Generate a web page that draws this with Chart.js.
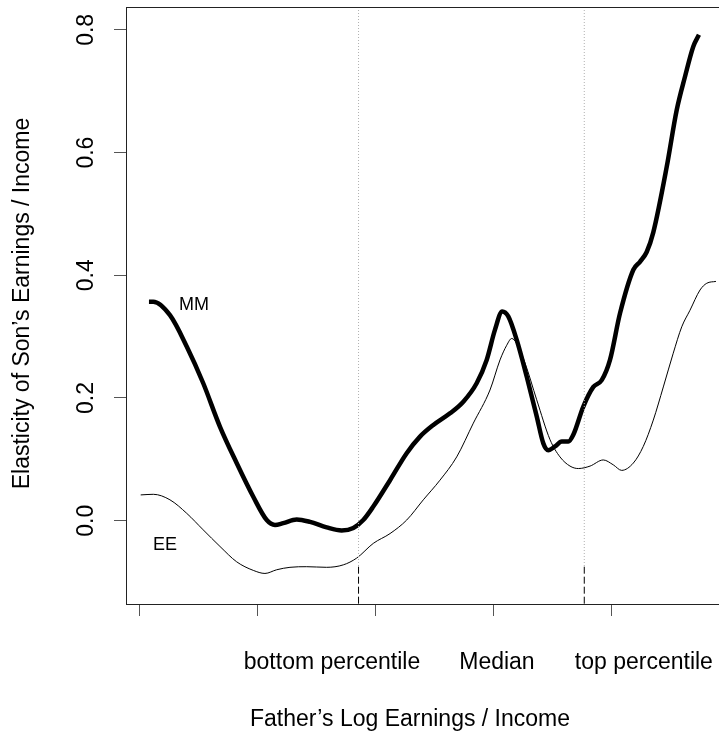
<!DOCTYPE html>
<html><head><meta charset="utf-8">
<script src="https://cdn.jsdelivr.net/npm/chart.js@4/dist/chart.umd.min.js"></script>
<style>html,body{margin:0;padding:0;background:#fff;overflow:hidden}#wrap{width:719px;height:742px;position:relative}</style>
</head><body><div id="wrap"><canvas id="c" width="719" height="742"></canvas></div>
<script>
// ---- data ----
const mmX = [0.076,0.113,0.254,0.396,0.536,0.678,0.819,0.960,1.074,1.144,1.214,1.328,1.441,1.582,1.709,1.808,1.892,1.977,2.119,2.260,2.373,2.486,2.627,2.740,2.853,2.938,3.008,3.070,3.121,3.192,3.277,3.362,3.418,3.460,3.517,3.574,3.630,3.672,3.757,3.842,3.913,3.983,4.068,4.181,4.237,4.294,4.350,4.464,4.548,4.619,4.689,4.737];
const mmY = [0.357,0.357,0.335,0.284,0.224,0.153,0.094,0.039,0.001,-0.007,-0.004,0.002,-0.002,-0.011,-0.016,-0.012,0.001,0.023,0.066,0.110,0.137,0.156,0.175,0.194,0.224,0.262,0.311,0.341,0.333,0.295,0.235,0.170,0.126,0.115,0.121,0.129,0.129,0.140,0.186,0.218,0.229,0.262,0.338,0.409,0.422,0.438,0.470,0.577,0.669,0.724,0.773,0.792];
const eeX = [0.006,0.113,0.254,0.396,0.536,0.678,0.819,0.960,1.059,1.158,1.271,1.413,1.582,1.723,1.836,1.977,2.119,2.260,2.401,2.542,2.684,2.825,2.966,3.051,3.108,3.150,3.192,3.263,3.362,3.475,3.559,3.644,3.715,3.814,3.926,4.011,4.082,4.181,4.265,4.350,4.435,4.519,4.591,4.661,4.746,4.803,4.881];
const eeY = [0.042,0.043,0.034,0.012,-0.015,-0.042,-0.067,-0.081,-0.086,-0.080,-0.076,-0.075,-0.076,-0.072,-0.061,-0.037,-0.021,0.001,0.034,0.066,0.104,0.159,0.213,0.262,0.286,0.297,0.289,0.257,0.197,0.132,0.104,0.089,0.085,0.089,0.099,0.091,0.082,0.094,0.121,0.164,0.218,0.273,0.316,0.343,0.376,0.387,0.390];
const yTicks = [0.0, 0.2, 0.4, 0.6, 0.8];
const yTickLabels = ['0.0', '0.2', '0.4', '0.6', '0.8'];
const xTicks = [0, 1, 2, 3, 4];
const xLabels = ['bottom percentile', 'Median', 'top percentile'];
const xLabelPos = [1.627, 3.025, 4.27];
const markerX = [1.852, 3.765];
const markerSplit = -0.075;
const curveNames = ['MM', 'EE'];
const curveNameX = [0.458, 0.212];
const curveNameY = [0.352, -0.040];
const yRange = [-0.1358, 0.8373];
const xRange = [-0.1186, 4.9068];
const xTitle = "Father\u2019s Log Earnings / Income";
const yTitle = "Elasticity of Son\u2019s Earnings / Income";

// ---- build datasets ----
const FONT = '"Liberation Sans", Arial, Helvetica, sans-serif';
const pts = (xs, ys) => xs.map((x, i) => ({x: x, y: ys[i]}));
const datasets = [];
markerX.forEach(mx => {
  datasets.push({data: [{x: mx, y: yRange[1]}, {x: mx, y: markerSplit}], borderColor: '#b0b0b0', borderWidth: 1, borderDash: [1, 2], pointRadius: 0, fill: false});
  datasets.push({data: [{x: mx, y: markerSplit}, {x: mx, y: yRange[0]}], borderColor: '#000', borderWidth: 1, borderDash: [7, 3], pointRadius: 0, fill: false});
});
datasets.push({data: pts(eeX, eeY), borderColor: '#000', borderWidth: 1, pointRadius: 0, fill: false, cubicInterpolationMode: 'monotone'});
datasets.push({data: pts(mmX, mmY), borderColor: '#000', borderWidth: 4.5, pointRadius: 0, fill: false, cubicInterpolationMode: 'monotone', borderCapStyle: 'butt'});

const textPlugin = {
  id: 'rtext',
  afterDraw(chart) {
    const ctx = chart.ctx, ca = chart.chartArea;
    const xs = chart.scales.x, ys = chart.scales.y;
    ctx.save();
    // top border of the box
    ctx.strokeStyle = '#222'; ctx.lineWidth = 1;
    ctx.beginPath(); ctx.moveTo(ca.left, ca.top + 0.5); ctx.lineTo(ca.right + 5, ca.top + 0.5); ctx.stroke();
    ctx.fillStyle = '#000';
    ctx.font = '23px ' + FONT;
    ctx.textAlign = 'center'; ctx.textBaseline = 'middle';
    // y tick labels (rotated, as in R)
    yTicks.forEach((v, i) => {
      ctx.save();
      ctx.translate(ca.left - 39, ys.getPixelForValue(v));
      ctx.rotate(-Math.PI / 2);
      ctx.fillText(yTickLabels[i], 0, 0);
      ctx.restore();
    });
    // y title
    ctx.save();
    ctx.translate(23, (ca.top + ca.bottom) / 2 - 2);
    ctx.rotate(-Math.PI / 2);
    ctx.fillText(yTitle, 0, 0);
    ctx.restore();
    // x labels
    xLabels.forEach((t, i) => ctx.fillText(t, xs.getPixelForValue(xLabelPos[i]), ca.bottom + 59));
    // x title
    ctx.fillText(xTitle, 410, ca.bottom + 116);
    // curve names
    ctx.font = '18px ' + FONT;
    curveNames.forEach((t, i) => ctx.fillText(t, xs.getPixelForValue(curveNameX[i]), ys.getPixelForValue(curveNameY[i])));
    ctx.restore();
  }
};

new Chart(document.getElementById('c'), {
  type: 'line',
  data: {datasets: datasets},
  options: {
    responsive: false, animation: false, devicePixelRatio: 1,
    layout: {padding: {top: 7, right: 0, left: 0, bottom: 0}},
    plugins: {legend: {display: false}, tooltip: {enabled: false}},
    scales: {
      x: {
        type: 'linear', min: xRange[0], max: xRange[1],
        afterBuildTicks: s => { s.ticks = xTicks.map(v => ({value: v})); },
        afterFit: s => { s.height = 138; },
        ticks: {display: false},
        grid: {drawOnChartArea: false, drawTicks: true, tickLength: 12, tickColor: '#555', lineWidth: 1},
        border: {display: true, color: '#222', width: 1}
      },
      y: {
        type: 'linear', min: yRange[0], max: yRange[1],
        afterBuildTicks: s => { s.ticks = yTicks.map(v => ({value: v})); },
        afterFit: s => { s.width = 126; },
        ticks: {display: false},
        grid: {drawOnChartArea: false, drawTicks: true, tickLength: 12, tickColor: '#555', lineWidth: 1},
        border: {display: true, color: '#222', width: 1}
      }
    }
  },
  plugins: [textPlugin]
});
</script>
</body></html>
